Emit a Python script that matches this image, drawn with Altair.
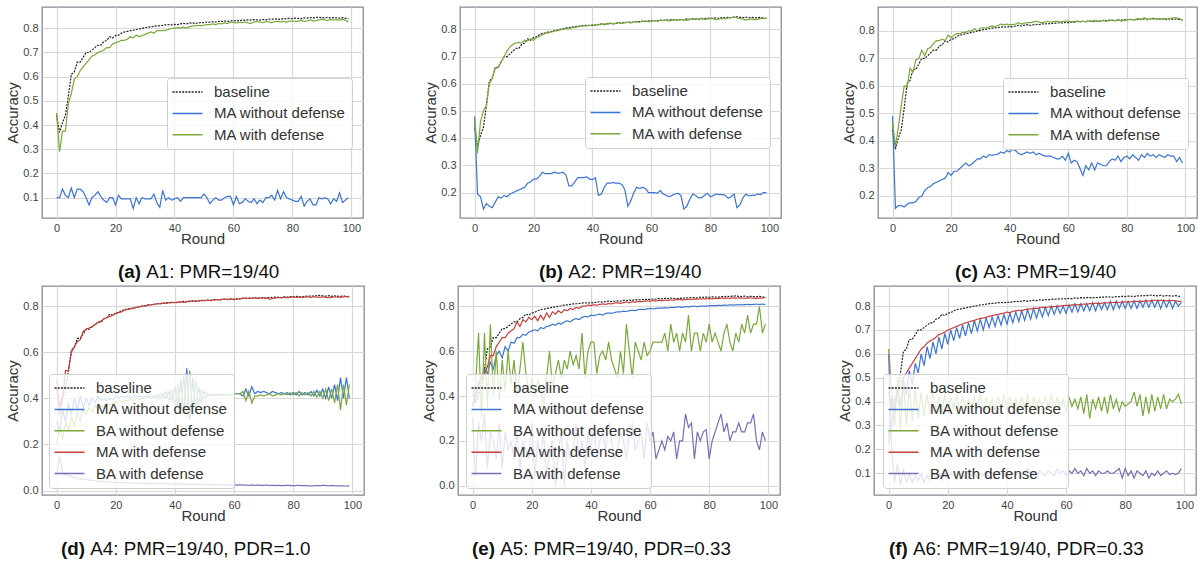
import altair as alt
import pandas as pd

FONT = "Liberation Sans"
rounds = list(range(100))

baseline = [
    0.44, 0.37, 0.41, 0.44, 0.52, 0.61, 0.62, 0.66, 0.66, 0.68,
    0.70, 0.70, 0.71, 0.72, 0.73, 0.73, 0.745, 0.75, 0.765, 0.76,
    0.77, 0.772, 0.78, 0.785, 0.787, 0.79, 0.792, 0.795, 0.797, 0.80,
    0.802, 0.805, 0.806, 0.808, 0.81, 0.811, 0.812, 0.814, 0.815, 0.814,
    0.816, 0.815, 0.818, 0.82, 0.818, 0.821, 0.823, 0.82, 0.822, 0.824,
    0.823, 0.826, 0.825, 0.827, 0.826, 0.829, 0.828, 0.83, 0.829, 0.831,
    0.83, 0.832, 0.831, 0.834, 0.833, 0.835, 0.834, 0.836, 0.835, 0.834,
    0.836, 0.835, 0.838, 0.837, 0.839, 0.838, 0.837, 0.84, 0.839, 0.841,
    0.84, 0.842, 0.841, 0.84, 0.843, 0.842, 0.844, 0.843, 0.845, 0.846,
    0.844, 0.843, 0.845, 0.842, 0.844, 0.843, 0.842, 0.844, 0.841, 0.84,
]

# (a) A1
a_ma_nodef = [
    0.10, 0.10, 0.135, 0.11, 0.10, 0.14, 0.10, 0.135, 0.135, 0.125,
    0.10, 0.07, 0.10, 0.11, 0.125, 0.105, 0.09, 0.08, 0.10, 0.10,
    0.07, 0.11, 0.095, 0.095, 0.095, 0.095, 0.055, 0.10, 0.075, 0.10,
    0.095, 0.095, 0.095, 0.115, 0.08, 0.06, 0.13, 0.09, 0.10, 0.09,
    0.095, 0.10, 0.085, 0.10, 0.10, 0.10, 0.10, 0.10, 0.10, 0.10,
    0.115, 0.10, 0.075, 0.09, 0.10, 0.09, 0.09, 0.10, 0.105, 0.105,
    0.07, 0.105, 0.075, 0.08, 0.095, 0.085, 0.08, 0.095, 0.075, 0.09,
    0.08, 0.10, 0.10, 0.11, 0.09, 0.13, 0.095, 0.125, 0.10, 0.095,
    0.09, 0.085, 0.085, 0.105, 0.065, 0.085, 0.095, 0.07, 0.07, 0.10,
    0.095, 0.10, 0.095, 0.075, 0.095, 0.085, 0.12, 0.08, 0.09, 0.10,
]
a_ma_def = [
    0.45, 0.29, 0.375, 0.375, 0.49, 0.53, 0.59, 0.60, 0.625, 0.64,
    0.655, 0.67, 0.685, 0.69, 0.70, 0.705, 0.71, 0.72, 0.72, 0.735,
    0.74, 0.745, 0.75, 0.75, 0.755, 0.765, 0.76, 0.772, 0.765, 0.77,
    0.775, 0.78, 0.785, 0.78, 0.79, 0.79, 0.79, 0.792, 0.795, 0.80,
    0.80, 0.803, 0.80, 0.805, 0.80, 0.806, 0.81, 0.81, 0.812, 0.81,
    0.813, 0.815, 0.815, 0.818, 0.815, 0.82, 0.818, 0.822, 0.82, 0.825,
    0.825, 0.822, 0.825, 0.823, 0.826, 0.822, 0.82, 0.826, 0.828, 0.825,
    0.823, 0.828, 0.826, 0.823, 0.828, 0.829, 0.826, 0.829, 0.826, 0.83,
    0.83, 0.828, 0.83, 0.832, 0.829, 0.83, 0.835, 0.83, 0.832, 0.835,
    0.838, 0.834, 0.832, 0.836, 0.834, 0.835, 0.834, 0.837, 0.833, 0.826,
]

# (b) A2
b_ma_nodef = [
    0.48, 0.195, 0.185, 0.14, 0.16, 0.15, 0.145, 0.165, 0.185, 0.18,
    0.19, 0.185, 0.195, 0.20, 0.205, 0.21, 0.215, 0.22, 0.235, 0.24,
    0.25, 0.25, 0.26, 0.275, 0.27, 0.27, 0.27, 0.275, 0.272, 0.272,
    0.275, 0.265, 0.225, 0.225, 0.24, 0.255, 0.255, 0.255, 0.258, 0.25,
    0.248, 0.255, 0.19, 0.195, 0.22, 0.235, 0.235, 0.237, 0.235, 0.235,
    0.23, 0.21, 0.15, 0.17, 0.20, 0.22, 0.215, 0.22, 0.215, 0.20,
    0.20, 0.20, 0.198, 0.208, 0.195, 0.19, 0.185, 0.19, 0.195, 0.198,
    0.19, 0.14, 0.15, 0.175, 0.195, 0.19, 0.18, 0.182, 0.19, 0.198,
    0.185, 0.19, 0.195, 0.193, 0.193, 0.19, 0.18, 0.185, 0.195, 0.145,
    0.155, 0.18, 0.195, 0.188, 0.19, 0.19, 0.195, 0.193, 0.20, 0.20,
]
b_ma_def = [
    0.48, 0.345, 0.46, 0.50, 0.52, 0.60, 0.62, 0.655, 0.66, 0.68,
    0.70, 0.72, 0.735, 0.745, 0.75, 0.752, 0.75, 0.76, 0.758, 0.765,
    0.76, 0.77, 0.775, 0.78, 0.785, 0.787, 0.79, 0.793, 0.795, 0.798,
    0.80, 0.802, 0.803, 0.805, 0.807, 0.81, 0.812, 0.813, 0.812, 0.815,
    0.813, 0.817, 0.816, 0.818, 0.82, 0.819, 0.822, 0.82, 0.823, 0.825,
    0.822, 0.824, 0.826, 0.823, 0.827, 0.828, 0.826, 0.829, 0.83, 0.828,
    0.83, 0.832, 0.83, 0.833, 0.832, 0.834, 0.831, 0.833, 0.835, 0.834,
    0.836, 0.835, 0.833, 0.836, 0.838, 0.836, 0.838, 0.839, 0.836, 0.838,
    0.84, 0.838, 0.836, 0.838, 0.84, 0.838, 0.841, 0.843, 0.845, 0.843,
    0.84, 0.838, 0.834, 0.836, 0.838, 0.835, 0.837, 0.84, 0.84, 0.84,
]

# (c) A3
c_ma_nodef = [
    0.49, 0.155, 0.165, 0.165, 0.16, 0.17, 0.175, 0.175, 0.18, 0.195,
    0.20, 0.22, 0.23, 0.235, 0.245, 0.25, 0.255, 0.26, 0.265, 0.285,
    0.275, 0.29, 0.29, 0.30, 0.31, 0.32, 0.31, 0.315, 0.325, 0.335,
    0.335, 0.345, 0.34, 0.35, 0.348, 0.35, 0.352, 0.36, 0.355, 0.365,
    0.36, 0.37, 0.365, 0.355, 0.35, 0.355, 0.36, 0.355, 0.36, 0.35,
    0.355, 0.35, 0.345, 0.345, 0.345, 0.34, 0.335, 0.335, 0.345, 0.33,
    0.355, 0.32, 0.33, 0.325, 0.30, 0.275, 0.31, 0.295, 0.32, 0.295,
    0.32, 0.315, 0.31, 0.31, 0.325, 0.335, 0.33, 0.345, 0.325, 0.34,
    0.345, 0.335, 0.35, 0.34, 0.33, 0.35, 0.34, 0.355, 0.345, 0.35,
    0.34, 0.35, 0.345, 0.34, 0.35, 0.345, 0.345, 0.325, 0.34, 0.32,
]
c_ma_def = [
    0.47, 0.38, 0.45, 0.53, 0.60, 0.595, 0.665, 0.65, 0.695, 0.70,
    0.73, 0.71, 0.735, 0.74, 0.755, 0.765, 0.765, 0.77, 0.765, 0.785,
    0.775, 0.785, 0.79, 0.79, 0.795, 0.795, 0.80, 0.80, 0.808, 0.80,
    0.81, 0.812, 0.81, 0.815, 0.818, 0.815, 0.82, 0.825, 0.822, 0.825,
    0.822, 0.823, 0.825, 0.83, 0.825, 0.828, 0.83, 0.83, 0.832, 0.835,
    0.833, 0.83, 0.832, 0.835, 0.832, 0.834, 0.836, 0.832, 0.834, 0.836,
    0.835, 0.833, 0.834, 0.836, 0.834, 0.835, 0.833, 0.836, 0.835, 0.838,
    0.835, 0.836, 0.838, 0.835, 0.837, 0.84, 0.838, 0.84, 0.836, 0.838,
    0.84, 0.842, 0.84, 0.843, 0.845, 0.842, 0.848, 0.84, 0.845, 0.843,
    0.845, 0.842, 0.844, 0.845, 0.843, 0.846, 0.848, 0.847, 0.845, 0.838,
]

# (d) A4
d_ma_nodef = [
    0.30, 0.25, 0.35, 0.30, 0.38, 0.33, 0.40, 0.35, 0.41, 0.36,
    0.40, 0.37, 0.40, 0.38, 0.41, 0.39, 0.40, 0.39, 0.40, 0.395,
    0.41, 0.40, 0.41, 0.405, 0.41, 0.40, 0.41, 0.405, 0.41, 0.405,
    0.41, 0.41, 0.41, 0.405, 0.415, 0.40, 0.42, 0.40, 0.43, 0.39,
    0.45, 0.37, 0.48, 0.33, 0.53, 0.31, 0.49, 0.35, 0.45, 0.39,
    0.43, 0.41, 0.415, 0.415, 0.415, 0.415, 0.415, 0.415, 0.415, 0.415,
    0.42, 0.42, 0.42, 0.41, 0.44, 0.41, 0.45, 0.42, 0.43, 0.425,
    0.43, 0.425, 0.42, 0.43, 0.425, 0.42, 0.425, 0.42, 0.425, 0.415,
    0.425, 0.415, 0.43, 0.415, 0.425, 0.415, 0.43, 0.41, 0.435, 0.41,
    0.44, 0.40, 0.45, 0.40, 0.46, 0.39, 0.49, 0.40, 0.49, 0.40,
]
d_ba_nodef = [
    0.20, 0.28, 0.22, 0.30, 0.26, 0.32, 0.28, 0.34, 0.30, 0.35,
    0.33, 0.36, 0.34, 0.37, 0.35, 0.37, 0.36, 0.38, 0.37, 0.38,
    0.38, 0.39, 0.385, 0.39, 0.39, 0.395, 0.39, 0.40, 0.395, 0.40,
    0.40, 0.405, 0.40, 0.41, 0.40, 0.42, 0.40, 0.43, 0.39, 0.44,
    0.37, 0.46, 0.34, 0.50, 0.32, 0.52, 0.34, 0.48, 0.37, 0.44,
    0.40, 0.42, 0.415, 0.415, 0.415, 0.415, 0.415, 0.415, 0.415, 0.415,
    0.42, 0.42, 0.42, 0.43, 0.39, 0.43, 0.38, 0.41, 0.41, 0.415,
    0.41, 0.415, 0.42, 0.41, 0.415, 0.42, 0.415, 0.42, 0.415, 0.425,
    0.415, 0.425, 0.41, 0.425, 0.415, 0.425, 0.41, 0.43, 0.405, 0.43,
    0.40, 0.44, 0.39, 0.44, 0.38, 0.46, 0.35, 0.46, 0.37, 0.46,
]
d_ma_def = [
    0.48, 0.33, 0.40, 0.52, 0.52, 0.60, 0.625, 0.645, 0.655, 0.69,
    0.70, 0.705, 0.712, 0.72, 0.73, 0.735, 0.745, 0.75, 0.755, 0.76,
    0.768, 0.772, 0.775, 0.783, 0.785, 0.788, 0.79, 0.794, 0.797, 0.80,
    0.801, 0.803, 0.806, 0.807, 0.81, 0.81, 0.813, 0.812, 0.815, 0.816,
    0.815, 0.817, 0.818, 0.816, 0.82, 0.822, 0.82, 0.823, 0.822, 0.825,
    0.824, 0.826, 0.823, 0.827, 0.828, 0.826, 0.829, 0.83, 0.828, 0.83,
    0.828, 0.83, 0.832, 0.833, 0.835, 0.833, 0.834, 0.836, 0.833, 0.835,
    0.836, 0.834, 0.83, 0.832, 0.835, 0.837, 0.836, 0.838, 0.836, 0.838,
    0.84, 0.838, 0.839, 0.837, 0.839, 0.84, 0.838, 0.84, 0.839, 0.838,
    0.84, 0.838, 0.836, 0.838, 0.84, 0.839, 0.838, 0.84, 0.841, 0.842,
]
d_ba_def = [
    0.07, 0.15, 0.08, 0.07, 0.065, 0.06, 0.058, 0.055, 0.05, 0.05,
    0.048, 0.046, 0.045, 0.043, 0.042, 0.04, 0.04, 0.038, 0.037, 0.036,
    0.036, 0.035, 0.035, 0.034, 0.034, 0.033, 0.033, 0.032, 0.033, 0.032,
    0.031, 0.031, 0.03, 0.031, 0.03, 0.03, 0.029, 0.03, 0.029, 0.029,
    0.028, 0.029, 0.028, 0.028, 0.027, 0.028, 0.027, 0.027, 0.027, 0.026,
    0.027, 0.026, 0.026, 0.026, 0.025, 0.026, 0.025, 0.025, 0.025, 0.024,
    0.025, 0.024, 0.025, 0.024, 0.024, 0.023, 0.024, 0.023, 0.024, 0.023,
    0.023, 0.024, 0.022, 0.023, 0.022, 0.023, 0.022, 0.022, 0.023, 0.022,
    0.021, 0.022, 0.023, 0.021, 0.022, 0.021, 0.02, 0.021, 0.022, 0.021,
    0.023, 0.022, 0.021, 0.022, 0.021, 0.02, 0.021, 0.02, 0.02, 0.021,
]

# (e) A5
e_ma_nodef = [
    0.35, 0.42, 0.46, 0.48, 0.52, 0.50, 0.55, 0.52, 0.58, 0.60,
    0.57, 0.62, 0.60, 0.64, 0.635, 0.66, 0.66, 0.675, 0.67, 0.685,
    0.69, 0.695, 0.69, 0.705, 0.70, 0.71, 0.712, 0.72, 0.715, 0.725,
    0.72, 0.73, 0.735, 0.73, 0.74, 0.745, 0.74, 0.75, 0.755, 0.752,
    0.76, 0.758, 0.762, 0.765, 0.76, 0.768, 0.77, 0.768, 0.772, 0.775,
    0.775, 0.778, 0.776, 0.78, 0.782, 0.78, 0.785, 0.786, 0.785, 0.788,
    0.79, 0.788, 0.79, 0.792, 0.791, 0.793, 0.792, 0.795, 0.794, 0.796,
    0.797, 0.795, 0.798, 0.797, 0.799, 0.80, 0.798, 0.80, 0.801, 0.80,
    0.802, 0.803, 0.802, 0.804, 0.803, 0.805, 0.804, 0.806, 0.805, 0.806,
    0.807, 0.806, 0.807, 0.808, 0.807, 0.808, 0.809, 0.808, 0.809, 0.808,
]
e_ba_nodef = [
    0.40, 0.45, 0.68, 0.30, 0.68, 0.35, 0.72, 0.40, 0.60, 0.38,
    0.56, 0.42, 0.60, 0.45, 0.56, 0.40, 0.52, 0.64, 0.50, 0.42,
    0.48, 0.40, 0.47, 0.44, 0.36, 0.48, 0.60, 0.44, 0.50, 0.56,
    0.48, 0.56, 0.52, 0.60, 0.54, 0.58, 0.52, 0.68, 0.48, 0.60,
    0.64, 0.64, 0.50, 0.58, 0.60, 0.56, 0.64, 0.56, 0.52, 0.48,
    0.60, 0.50, 0.72, 0.60, 0.48, 0.64, 0.60, 0.56, 0.64, 0.58,
    0.60, 0.64, 0.64, 0.64, 0.64, 0.68, 0.60, 0.72, 0.64, 0.68,
    0.60, 0.68, 0.64, 0.76, 0.60, 0.68, 0.68, 0.60, 0.68, 0.64,
    0.72, 0.64, 0.68, 0.64, 0.60, 0.68, 0.72, 0.64, 0.60, 0.68,
    0.64, 0.72, 0.68, 0.76, 0.68, 0.72, 0.72, 0.80, 0.68, 0.72,
]
e_ma_def = [
    0.36, 0.40, 0.45, 0.48, 0.50, 0.53, 0.58, 0.58, 0.62, 0.64,
    0.66, 0.66, 0.68, 0.69, 0.70, 0.73, 0.71, 0.74, 0.73, 0.75,
    0.74, 0.755, 0.735, 0.76, 0.74, 0.77, 0.75, 0.775, 0.765, 0.78,
    0.77, 0.785, 0.78, 0.79, 0.785, 0.795, 0.79, 0.80, 0.80, 0.805,
    0.803, 0.806, 0.805, 0.808, 0.81, 0.808, 0.812, 0.81, 0.814, 0.815,
    0.813, 0.816, 0.818, 0.815, 0.82, 0.818, 0.821, 0.82, 0.822, 0.824,
    0.822, 0.825, 0.823, 0.826, 0.825, 0.827, 0.826, 0.828, 0.827, 0.829,
    0.83, 0.828, 0.83, 0.831, 0.83, 0.832, 0.831, 0.833, 0.832, 0.833,
    0.834, 0.833, 0.835, 0.834, 0.836, 0.835, 0.836, 0.835, 0.837, 0.836,
    0.837, 0.836, 0.835, 0.836, 0.837, 0.836, 0.835, 0.836, 0.837, 0.838,
]
e_ba_def = [
    0.30, 0.04, 0.28, 0.20, 0.32, 0.08, 0.24, 0.20, 0.12, 0.28,
    0.08, 0.24, 0.16, 0.20, 0.12, 0.24, 0.08, 0.20, 0.16, 0.12,
    0.28, 0.04, 0.20, 0.12, 0.24, 0.04, 0.16, 0.20, 0.00, 0.16,
    0.24, 0.00, 0.20, 0.12, 0.16, 0.28, 0.12, 0.20, 0.08, 0.24,
    0.16, 0.28, 0.12, 0.20, 0.24, 0.16, 0.28, 0.20, 0.12, 0.16,
    0.24, 0.20, 0.12, 0.24, 0.28, 0.16, 0.20, 0.24, 0.12, 0.28,
    0.20, 0.24, 0.12, 0.16, 0.20, 0.16, 0.22, 0.20, 0.24, 0.12,
    0.20, 0.20, 0.32, 0.26, 0.28, 0.12, 0.24, 0.20, 0.24, 0.25,
    0.12, 0.20, 0.24, 0.28, 0.32, 0.24, 0.28, 0.20, 0.24, 0.24,
    0.28, 0.24, 0.24, 0.28, 0.28, 0.32, 0.20, 0.16, 0.24, 0.20,
]

# (f) A6
f_ma_nodef = [
    0.25, 0.42, 0.36, 0.45, 0.38, 0.49, 0.43, 0.53, 0.47, 0.56,
    0.52, 0.60, 0.55, 0.63, 0.58, 0.65, 0.60, 0.67, 0.62, 0.685,
    0.64, 0.70, 0.655, 0.71, 0.665, 0.72, 0.675, 0.73, 0.685, 0.74,
    0.695, 0.745, 0.70, 0.75, 0.71, 0.755, 0.715, 0.76, 0.72, 0.765,
    0.725, 0.77, 0.73, 0.775, 0.735, 0.78, 0.74, 0.785, 0.745, 0.79,
    0.75, 0.79, 0.755, 0.795, 0.76, 0.80, 0.765, 0.80, 0.77, 0.80,
    0.77, 0.805, 0.775, 0.81, 0.775, 0.81, 0.78, 0.81, 0.78, 0.815,
    0.78, 0.815, 0.785, 0.815, 0.785, 0.82, 0.785, 0.82, 0.79, 0.82,
    0.79, 0.82, 0.79, 0.822, 0.79, 0.822, 0.795, 0.825, 0.795, 0.825,
    0.795, 0.825, 0.79, 0.825, 0.795, 0.825, 0.79, 0.82, 0.80, 0.815,
]
f_ba_nodef = [
    0.62, 0.45, 0.30, 0.50, 0.28, 0.48, 0.30, 0.46, 0.32, 0.45,
    0.33, 0.44, 0.34, 0.43, 0.35, 0.44, 0.36, 0.42, 0.35, 0.43,
    0.36, 0.42, 0.37, 0.43, 0.36, 0.42, 0.37, 0.41, 0.36, 0.42,
    0.37, 0.43, 0.36, 0.42, 0.37, 0.41, 0.36, 0.42, 0.37, 0.43,
    0.36, 0.42, 0.37, 0.41, 0.36, 0.42, 0.37, 0.43, 0.36, 0.42,
    0.37, 0.41, 0.38, 0.42, 0.37, 0.43, 0.36, 0.42, 0.37, 0.41,
    0.36, 0.42, 0.38, 0.41, 0.37, 0.42, 0.35, 0.43, 0.33, 0.41,
    0.37, 0.42, 0.36, 0.42, 0.35, 0.43, 0.37, 0.41, 0.36, 0.40,
    0.38, 0.39, 0.40, 0.44, 0.38, 0.43, 0.34, 0.42, 0.35, 0.43,
    0.36, 0.42, 0.37, 0.43, 0.37, 0.41, 0.40, 0.41, 0.43, 0.39,
]
f_ma_def = [
    0.22, 0.30, 0.38, 0.43, 0.47, 0.50, 0.52, 0.54, 0.56, 0.58,
    0.60, 0.62, 0.63, 0.645, 0.655, 0.66, 0.67, 0.68, 0.685, 0.69,
    0.70, 0.705, 0.71, 0.715, 0.72, 0.725, 0.73, 0.733, 0.737, 0.74,
    0.745, 0.748, 0.75, 0.753, 0.757, 0.76, 0.763, 0.765, 0.768, 0.77,
    0.775, 0.772, 0.778, 0.78, 0.782, 0.78, 0.785, 0.787, 0.788, 0.79,
    0.79, 0.792, 0.795, 0.793, 0.796, 0.797, 0.798, 0.80, 0.80, 0.802,
    0.803, 0.802, 0.805, 0.806, 0.805, 0.807, 0.808, 0.808, 0.81, 0.81,
    0.812, 0.81, 0.812, 0.814, 0.813, 0.815, 0.815, 0.816, 0.815, 0.817,
    0.818, 0.817, 0.818, 0.82, 0.819, 0.82, 0.82, 0.822, 0.821, 0.823,
    0.825, 0.822, 0.824, 0.823, 0.822, 0.824, 0.823, 0.822, 0.82, 0.82,
]
f_ba_def = [
    0.60, 0.20, 0.06, 0.14, 0.05, 0.12, 0.06, 0.10, 0.06, 0.09,
    0.07, 0.10, 0.06, 0.09, 0.07, 0.10, 0.08, 0.10, 0.07, 0.10,
    0.08, 0.10, 0.09, 0.08, 0.10, 0.09, 0.08, 0.11, 0.09, 0.10,
    0.08, 0.10, 0.09, 0.11, 0.08, 0.10, 0.09, 0.10, 0.11, 0.09,
    0.10, 0.08, 0.10, 0.09, 0.11, 0.09, 0.10, 0.12, 0.09, 0.10,
    0.08, 0.11, 0.10, 0.09, 0.11, 0.10, 0.09, 0.12, 0.10, 0.11,
    0.09, 0.11, 0.10, 0.12, 0.10, 0.11, 0.09, 0.12, 0.10, 0.11,
    0.09, 0.11, 0.10, 0.10, 0.11, 0.10, 0.10, 0.11, 0.12, 0.08,
    0.12, 0.09, 0.11, 0.08, 0.11, 0.10, 0.09, 0.11, 0.08, 0.10,
    0.09, 0.11, 0.09, 0.10, 0.11, 0.095, 0.10, 0.095, 0.10, 0.12,
]

captions = [
    ("(a)", "A1: PMR=19/40"),
    ("(b)", "A2: PMR=19/40"),
    ("(c)", "A3: PMR=19/40"),
    ("(d)", "A4: PMR=19/40, PDR=1.0"),
    ("(e)", "A5: PMR=19/40, PDR=0.33"),
    ("(f)", "A6: PMR=19/40, PDR=0.33"),
]

BLACK = "#222222"
BLUE = "#3a74d4"
GREEN = "#7aa93a"
RED = "#cc3d3d"
PURPLE = "#7a6cb8"

S_BASE = "baseline"
S_MAN = "MA without defense"
S_BAN = "BA without defense"
S_MAD = "MA with defense"
S_BAD = "BA with defense"

# Arial-bold advance widths (per 1000 em) for the caption prefixes
BOLD_W = {"(": 333, ")": 333, "a": 556, "b": 611, "c": 556, "d": 611, "e": 556, "f": 333}
CAP_FS = 18.8


def panel(series, colors, ydom, yticks, lx, ly, cap, cap_x, width, height):
    names = [n for n, _ in series]
    for n, v in series:
        assert len(v) == 100, (n, len(v))
    df = pd.DataFrame(
        [{"round": r, "value": val, "series": n} for n, vals in series for r, val in zip(rounds, vals)]
    )
    dashes = [[2, 1.2] if n == S_BASE else [1, 0] for n in names]
    leg = alt.Legend(
        orient="none", legendX=lx, legendY=ly, title=None,
        symbolType="M-2,0L2,0", symbolSize=225, symbolStrokeWidth=1.5, symbolOffset=6.5,
        labelFontSize=15, labelColor="#333333", labelFont=FONT, labelOffset=18,
        labelLimit=400, rowPadding=4.4, padding=5.5,
        fillColor="rgba(255,255,255,0.8)", strokeColor="#cfcfcf", cornerRadius=3,
    )
    lines = alt.Chart(df).mark_line(strokeWidth=1.2).encode(
        x=alt.X("round:Q", scale=alt.Scale(domain=[-4.95, 103.95], nice=False, zero=False),
                axis=alt.Axis(values=[0, 20, 40, 60, 80, 100], title="Round", format="d",
                              labelFlush=False, titlePadding=-2)),
        y=alt.Y("value:Q", scale=alt.Scale(domain=ydom, nice=False, zero=False),
                axis=alt.Axis(values=yticks, title="Accuracy", format=".1f")),
        color=alt.Color("series:N", scale=alt.Scale(domain=names, range=colors), legend=leg),
        strokeDash=alt.StrokeDash("series:N", scale=alt.Scale(domain=names, range=dashes), legend=leg),
    )
    bold, rest = cap
    bw = (sum(BOLD_W[c] for c in bold) + 278) * CAP_FS / 1000.0
    cdf = pd.DataFrame({"b": [bold], "r": [rest]})
    cap1 = alt.Chart(cdf).mark_text(
        align="left", baseline="middle", fontSize=CAP_FS, fontWeight="bold", font=FONT, color="#111111"
    ).encode(x=alt.value(cap_x), y=alt.value(height + 54), text="b:N")
    cap2 = alt.Chart(cdf).mark_text(
        align="left", baseline="middle", fontSize=CAP_FS, font=FONT, color="#111111"
    ).encode(x=alt.value(cap_x + bw), y=alt.value(height + 54), text="r:N")
    return alt.layer(lines, cap1, cap2).properties(width=width, height=height)


top_cols = [BLACK, BLUE, GREEN]
bot_cols = [BLACK, BLUE, GREEN, RED, PURPLE]
t01 = [0.1, 0.2, 0.3, 0.4, 0.5, 0.6, 0.7, 0.8]
t02 = [0.2, 0.3, 0.4, 0.5, 0.6, 0.7, 0.8]
t00 = [0.0, 0.2, 0.4, 0.6, 0.8]

pa = panel([(S_BASE, baseline), (S_MAN, a_ma_nodef), (S_MAD, a_ma_def)], top_cols,
           [0.016, 0.888], t01, 125, 71, captions[0], 76, 321, 211)
pb = panel([(S_BASE, baseline), (S_MAN, b_ma_nodef), (S_MAD, b_ma_def)], top_cols,
           [0.107, 0.882], t02, 125, 70, captions[1], 79, 321, 211)
pc = panel([(S_BASE, baseline), (S_MAN, c_ma_nodef), (S_MAD, c_ma_def)], top_cols,
           [0.12, 0.887], t02, 125, 71, captions[2], 77, 319, 211)
pd_ = panel([(S_BASE, baseline), (S_MAN, d_ma_nodef), (S_BAN, d_ba_nodef), (S_MAD, d_ma_def), (S_BAD, d_ba_def)],
            bot_cols, [-0.019, 0.887], t00, 7, 88, captions[3], 19, 322, 209)
pe = panel([(S_BASE, baseline), (S_MAN, e_ma_nodef), (S_BAN, e_ba_nodef), (S_MAD, e_ma_def), (S_BAD, e_ba_def)],
           bot_cols, [-0.041, 0.890], t00, 8, 88, captions[4], 14, 322, 209)
pf = panel([(S_BASE, baseline), (S_MAN, f_ma_nodef), (S_BAN, f_ba_nodef), (S_MAD, f_ma_def), (S_BAD, f_ba_def)],
           bot_cols, [0.009, 0.884], t01, 9, 88, captions[5], 15, 322, 209)


def ind(c):
    return c.resolve_scale(color="independent", strokeDash="independent", x="independent", y="independent") \
            .resolve_legend(color="independent", strokeDash="independent")


row1 = ind(alt.hconcat(pa, pb, pc, spacing=59))
row2 = ind(alt.hconcat(pd_, pe, pf, spacing=56))
chart = ind(alt.vconcat(row1, row2, spacing=2)).properties(
    padding={"left": 5, "top": 6, "right": 0, "bottom": 0}
).configure(font=FONT).configure_view(
    stroke="#858b93", strokeWidth=1.3, fill="white"
).configure_axis(
    domain=False, ticks=False, gridColor="#d8d8d8", gridWidth=1.2,
    labelFontSize=11, labelColor="#444444", labelFont=FONT, labelPadding=4,
    titleFontSize=15, titleFontWeight="normal", titleColor="#333333", titleFont=FONT, titlePadding=2,
)

chart.save("out.html", embed_options={"renderer": "svg", "actions": False})
